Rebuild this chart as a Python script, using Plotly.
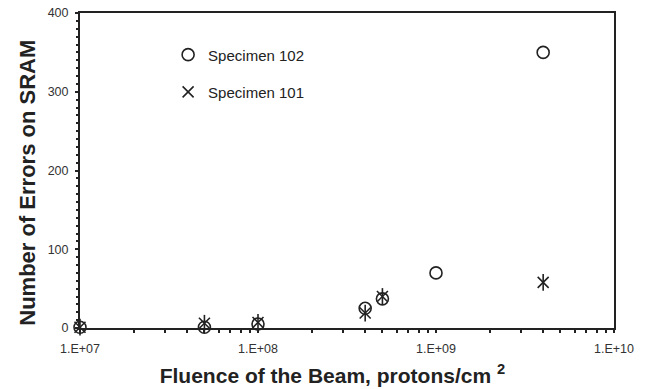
import plotly.graph_objects as go

fluence = [1e7, 5e7, 1e8, 4e8, 5e8, 1e9, 4e9]
errors_102 = [1, 1, 5, 25, 37, 70, 350]
fluence_101 = [1e7, 5e7, 1e8, 4e8, 5e8, 4e9]
errors_101 = [1, 6, 7, 19, 40, 58]

decades = [1e7, 1e8, 1e9, 1e10]
decade_labels = ["1.E+07", "1.E+08", "1.E+09", "1.E+10"]

tickvals, ticktext = [], []
for d, lab in zip(decades, decade_labels):
    tickvals.append(d); ticktext.append(lab)
    if d < 1e10:
        for k in range(2, 10):
            tickvals.append(d * k); ticktext.append("")

font = "Liberation Sans, Arial, sans-serif"
pad = "&nbsp;"

fig = go.Figure()
fig.add_trace(go.Scatter(
    x=fluence, y=errors_102, mode="markers", name="Specimen 102",
    marker=dict(symbol="circle-open", size=12, color="#222", line=dict(width=1.6)),
    cliponaxis=False, legend="legend"))
fig.add_trace(go.Scatter(
    x=fluence_101, y=errors_101, mode="markers", name="Specimen 101",
    marker=dict(symbol="x-thin-open", size=11, color="#222", line=dict(width=1.6)),
    cliponaxis=False, legend="legend2"))
fig.add_trace(go.Scatter(
    x=fluence_101, y=errors_101, mode="markers", name="Specimen 101 v",
    marker=dict(symbol="line-ns-open", size=12, color="#222", line=dict(width=1.6)),
    cliponaxis=False, showlegend=False))

fig.update_layout(
    width=652, height=389,
    margin=dict(l=80, r=38, t=13, b=61),
    paper_bgcolor="white", plot_bgcolor="white",
    font=dict(family=font, color="#222"),
    xaxis=dict(
        type="log", range=[7, 10], automargin=False,
        tickvals=tickvals, ticktext=ticktext, tickangle=0,
        ticks="outside", ticklen=3, tickcolor="#222", tickwidth=1.5,
        ticklabelstandoff=5,
        showline=True, linecolor="#222", linewidth=2, mirror=True,
        showgrid=False, zeroline=False,
        tickfont=dict(size=12.5, color="#333"),
        title=dict(text="<b>Fluence of the Beam, protons/cm <sup>2</sup></b>" + pad * 5,
                   font=dict(size=21, color="#222"), standoff=13),
    ),
    yaxis=dict(
        range=[0, 400], dtick=100, automargin=False,
        ticks="outside", ticklen=3, tickcolor="#222", tickwidth=1.5,
        ticklabelstandoff=4,
        minor=dict(dtick=10, ticks="outside", ticklen=2, tickcolor="#222", tickwidth=1.5),
        showline=True, linecolor="#222", linewidth=2, mirror=True,
        showgrid=False, zeroline=False,
        tickfont=dict(size=12.5, color="#333"),
        title=dict(text="<b>Number of Errors on SRAM</b>" + pad * 4,
                   font=dict(size=22, color="#222"), standoff=6),
    ),
    legend=dict(x=0.165, y=0.867, xanchor="left", yanchor="middle",
                bgcolor="rgba(0,0,0,0)", font=dict(size=15, color="#222"),
                itemwidth=30),
    legend2=dict(x=0.165, y=0.749, xanchor="left", yanchor="middle",
                 bgcolor="rgba(0,0,0,0)", font=dict(size=15, color="#222"),
                 itemwidth=30),
)

fig.write_html("out.html")
